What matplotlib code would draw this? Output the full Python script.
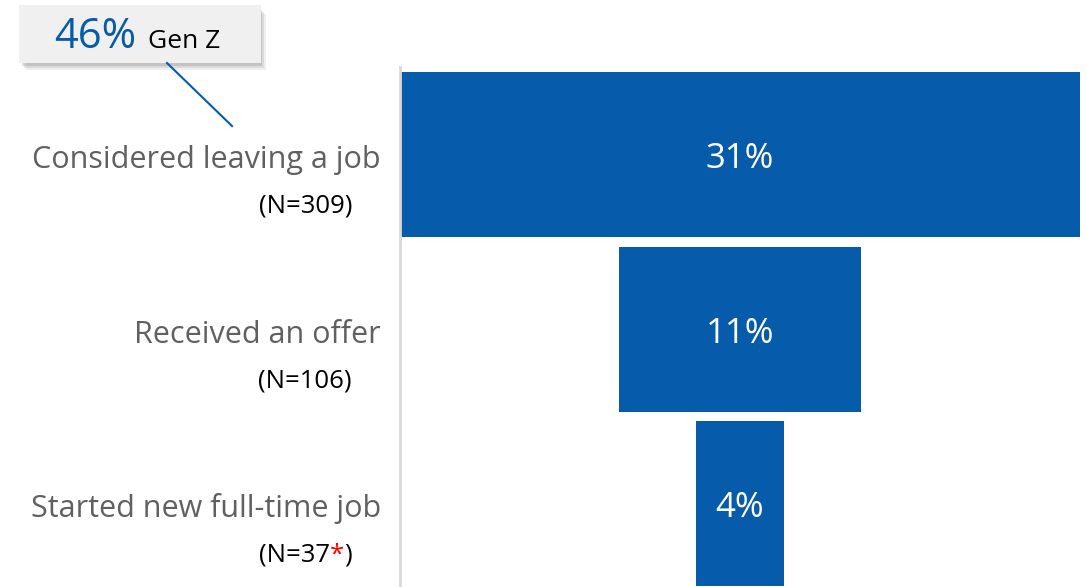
import matplotlib.pyplot as plt
from matplotlib.patches import Rectangle

# funnel data
stages = ["Considered leaving a job", "Received an offer", "Started new full-time job"]
shares = [31, 11, 4]
sample_n = ["309", "106", "37"]
low_base = [False, False, True]
genz_share = 46

BLUE = "#065BAA"
GRAY_TXT = "#606060"

plt.rcParams['font.family'] = ['Open Sans', 'DejaVu Sans']

fig = plt.figure(figsize=(10.86, 5.87), dpi=100)
W, H = 1086, 587

# axes spans from the vertical rule to the right edge
ax = fig.add_axes([400 / W, 0, 1 - 400 / W, (H - 67) / H])
center = max(shares) / 2
ypos = list(range(len(stages)))
lefts = [center - s / 2 for s in shares]
ax.barh(ypos, shares, left=lefts, height=0.944, color=BLUE, edgecolor='none')
ax.set_xlim(0, 31.27)
ax.set_ylim(2.475, -0.5)

for sp in ["top", "right", "bottom"]:
    ax.spines[sp].set_visible(False)
ax.spines["left"].set_color("#d9d9d9")
ax.spines["left"].set_linewidth(2)
ax.set_xticks([])
ax.set_yticks([])

px_y = 1 / 174.75
px_x = 31.27 / 686

# values inside bars
for y, s in zip(ypos, shares):
    ax.text(center, y + 13.5 * px_y, f"{s}%", ha='center', va='baseline',
            color='white', fontsize=25)

# stage labels and sample sizes on the left
for y, name, n, low in zip(ypos, stages, sample_n, low_base):
    ax.text(-19 * px_x, y + 13.5 * px_y, name, ha='right', va='baseline',
            color=GRAY_TXT, fontsize=22)
    ny = y + 58 * px_y
    nx = -48 * px_x
    if low:
        t3 = ax.text(nx, ny, ")", ha='right', va='baseline', color='black', fontsize=18.5)
        t2 = ax.annotate("*", xy=(0, 0), xycoords=t3, ha='right', va='bottom',
                         color='red', fontsize=18.5)
        ax.annotate(f"(N={n}", xy=(0, 0), xycoords=t2, ha='right', va='bottom',
                    color='black', fontsize=18.5)
    else:
        ax.text(nx, ny, f"(N={n})", ha='right', va='baseline', color='black', fontsize=18.5)

# Gen Z callout with a soft shadow
for k, a in [(7, 0.12), (5, 0.18), (3, 0.25)]:
    fig.patches.append(Rectangle((19 / W + k / W, 1 - (63 + k) / H), (242 - 2) / W, (58 - 2) / H,
                                 transform=fig.transFigure, facecolor='#808080',
                                 edgecolor='none', alpha=a))
fig.patches.append(Rectangle((19 / W, 1 - 63 / H), 242 / W, 58 / H,
                             transform=fig.transFigure, facecolor='#f0f0f0', edgecolor='none'))
fig.add_artist(plt.Line2D([167 / W, 232 / W], [1 - 63 / H, 1 - 126 / H],
                          transform=fig.transFigure, color=BLUE, lw=1.5))
fig.text(54 / W, 1 - 48 / H, f"{genz_share}%", ha='left', va='baseline',
         color=BLUE, fontsize=30)
fig.text(148 / W, 1 - 48 / H, "Gen Z", ha='left', va='baseline', color='black', fontsize=19)

plt.savefig("out.png", dpi=100)
